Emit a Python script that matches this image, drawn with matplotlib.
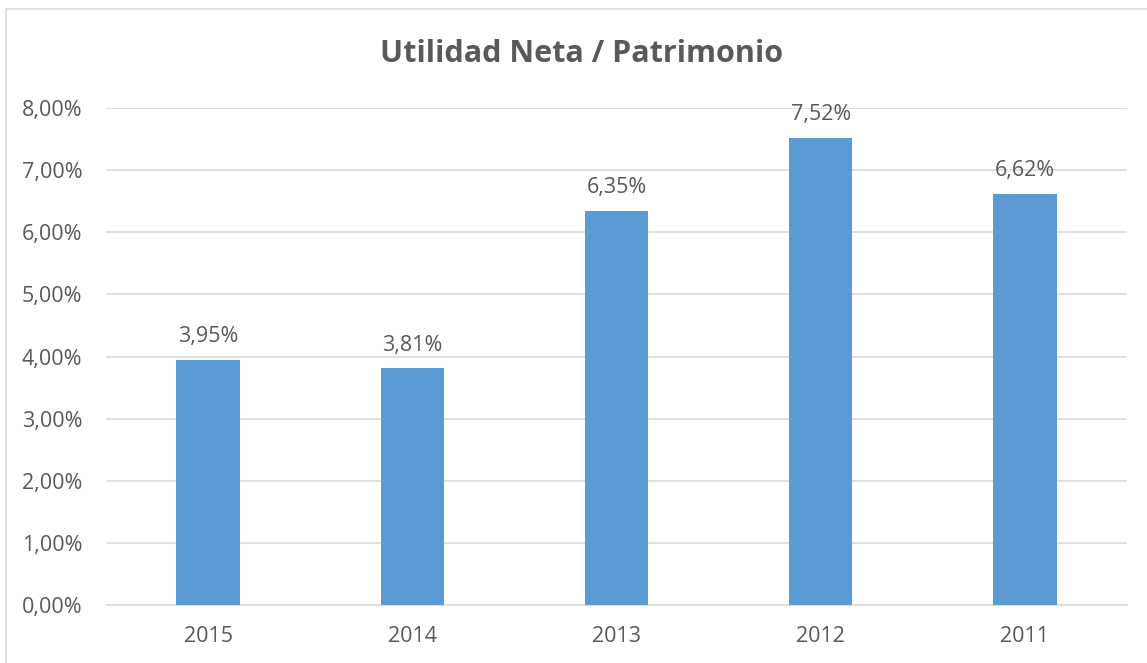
import matplotlib.pyplot as plt
from matplotlib.patches import Rectangle
from matplotlib.ticker import FuncFormatter

# datos
years = ['2015', '2014', '2013', '2012', '2011']
ratio = [3.95, 3.81, 6.35, 7.52, 6.62]
yticks = [0, 1, 2, 3, 4, 5, 6, 7, 8]

gray = '#595959'
plt.rcParams['font.family'] = ['Open Sans', 'DejaVu Sans']

fig = plt.figure(figsize=(11.47, 6.63), dpi=100)
ax = fig.add_axes([106 / 1147, 1 - 605 / 663, (1127 - 106) / 1147, (605 - 108) / 663])

# borde del gráfico
fig.patches.append(Rectangle((6 / 1147, -0.1), 1.2, 1 - 9 / 663 + 0.1,
                             transform=fig.transFigure, fill=False,
                             edgecolor='#D9D9D9', linewidth=1.2))

x = range(len(years))
bars = ax.bar(x, ratio, width=0.31, color='#5B9BD5', zorder=3)

for xi, v in zip(x, ratio):
    ax.annotate(f'{v:.2f}%'.replace('.', ','), (xi, v), xytext=(0, 9),
                textcoords='offset points', ha='center', va='bottom',
                fontsize=15.5, color=gray)

ax.set_xlim(-0.5, len(years) - 0.5)
ax.set_ylim(0, 8)
ax.set_yticks(yticks)
ax.yaxis.set_major_formatter(FuncFormatter(lambda v, p: f'{v:.2f}%'.replace('.', ',')))
ax.set_xticks(list(x))
ax.set_xticklabels(years)
ax.tick_params(axis='both', length=0, labelsize=15.5, colors=gray)
ax.tick_params(axis='y', pad=17)
ax.tick_params(axis='x', pad=15)
ax.grid(axis='y', color='#D9D9D9', linewidth=1.2, zorder=0)
for s in ['top', 'right', 'left']:
    ax.spines[s].set_visible(False)
ax.spines['bottom'].set_color('#D9D9D9')
ax.spines['bottom'].set_linewidth(1.2)

fig.text(582 / 1147, 1 - 54 / 663, 'Utilidad Neta / Patrimonio', ha='center', va='center',
         fontsize=22, fontweight='bold', color=gray)

fig.savefig('out.png', dpi=100)
